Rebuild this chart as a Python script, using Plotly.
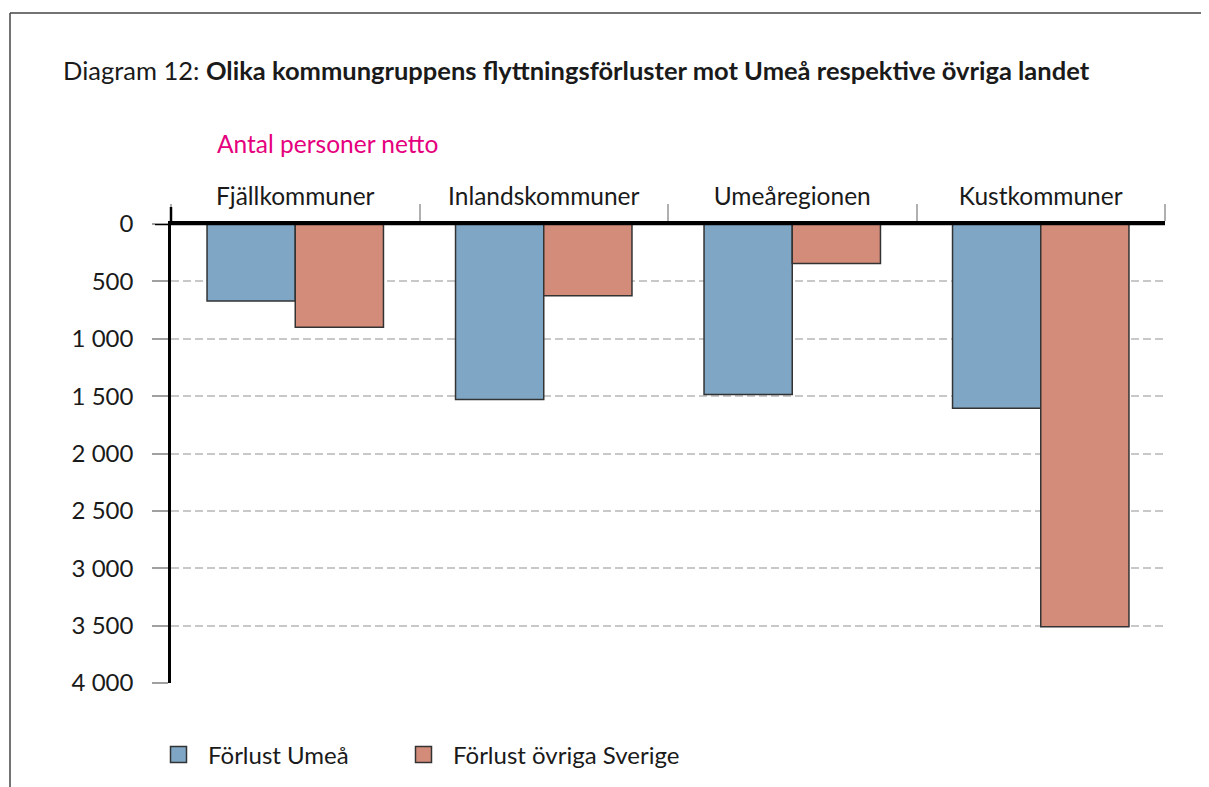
import plotly.graph_objects as go

categories = ["Fjällkommuner", "Inlandskommuner", "Umeåregionen", "Kustkommuner"]
forlust_umea = [670, 1530, 1485, 1605]
forlust_ovriga = [900, 625, 345, 3510]
series_names = ["Förlust Umeå", "Förlust övriga Sverige"]
y_tickvals = [0, 500, 1000, 1500, 2000, 2500, 3000, 3500, 4000]
y_ticktext = ["0", "500", "1 000", "1 500", "2 000", "2 500", "3 000", "3 500", "4 000"]

BLUE = "#7FA7C5"
SALMON = "#D48C7A"
FONT = "Lato"
TXT = "#1a1a1a"

# figure coordinates (page has an 8px body margin)
W, H = 1201, 779
L, R, T, B = 163, 44, 216, 104
PW, PH = W - L - R, H - T - B

fig = go.Figure()
fig.add_trace(go.Bar(x=categories, y=forlust_umea, name=series_names[0],
                     marker=dict(color=BLUE, line=dict(color="#333333", width=1.5)),
                     showlegend=False))
fig.add_trace(go.Bar(x=categories, y=forlust_ovriga, name=series_names[1],
                     marker=dict(color=SALMON, line=dict(color="#333333", width=1.5)),
                     showlegend=False))
for nm, col, lg in zip(series_names, [BLUE, SALMON], ["legend", "legend2"]):
    fig.add_trace(go.Scatter(x=[None], y=[None], mode="markers", name=nm, legend=lg,
                             marker=dict(symbol="square", size=20, color=col,
                                         line=dict(color="#333333", width=1.5))))

leg_y = -(747 - (H - B)) / PH
leg_common = dict(orientation="h", xanchor="left", y=leg_y, yanchor="middle",
                  font=dict(family=FONT, size=24, color=TXT),
                  itemwidth=49, itemsizing="trace", bgcolor="rgba(0,0,0,0)")

fig.update_layout(
    width=W, height=H,
    margin=dict(l=L, r=R, t=T, b=B, autoexpand=False),
    paper_bgcolor="white", plot_bgcolor="white",
    barmode="group", bargap=0.29, bargroupgap=0,
    font=dict(family=FONT, size=24, color=TXT),
    title=dict(text="Diagram 12: <b>Olika kommungruppens flyttningsförluster mot Umeå respektive övriga landet</b>",
               x=55/W, xanchor="left", xref="container",
               y=1-63/H, yanchor="middle", yref="container",
               font=dict(family=FONT, size=25.5, color=TXT)),
    showlegend=True,
    legend=dict(x=(141 - L) / PW, **leg_common),
    legend2=dict(x=(386 - L) / PW, **leg_common),
)

fig.update_xaxes(side="top", type="category", showline=True, linecolor="black", linewidth=2.5,
                 ticks="outside", tickson="boundaries", ticklen=17, tickcolor="#b0b0b0",
                 tickwidth=1.5, showgrid=False, ticklabelstandoff=6, automargin=False,
                 tickfont=dict(family=FONT, size=24.5, color=TXT))
fig.update_yaxes(range=[4000, 0], tickvals=y_tickvals, ticktext=y_ticktext,
                 showline=True, linecolor="black", linewidth=2.5,
                 ticks="outside", ticklen=16, tickcolor="#a0a0a0", tickwidth=1.5,
                 showgrid=True, gridcolor="#c8c8c8", gridwidth=1.5, griddash="8px,4px",
                 zeroline=False, ticklabelstandoff=14, automargin=False,
                 tickfont=dict(family=FONT, size=24, color=TXT))

# y-axis line extension above zero and zero line extension left
fig.add_shape(type="line", xref="paper", yref="paper", x0=0, x1=0, y0=1, y1=1+17/PH,
              line=dict(color="black", width=2.5))
fig.add_shape(type="line", xref="paper", yref="y", x0=-16/PW, x1=1, y0=0, y1=0,
              line=dict(color="black", width=2.5))
# frame top and left
fig.add_shape(type="line", xref="paper", yref="paper", x0=(2-L)/PW, x1=1+(R+5)/PW,
              y0=1+(T-5)/PH, y1=1+(T-5)/PH, line=dict(color="#444444", width=1.5))
fig.add_shape(type="line", xref="paper", yref="paper", x0=(2-L)/PW, x1=(2-L)/PW,
              y0=1+(T-5)/PH, y1=-(B+5)/PH, line=dict(color="#444444", width=1.5))

fig.add_annotation(text="Antal personer netto", xref="paper", yref="paper",
                   x=(207-L)/PW, xanchor="left", y=1+(T-135)/PH, yanchor="middle",
                   showarrow=False, font=dict(family=FONT, size=24.5, color="#E5007D"))

fig.write_html("out.html")
